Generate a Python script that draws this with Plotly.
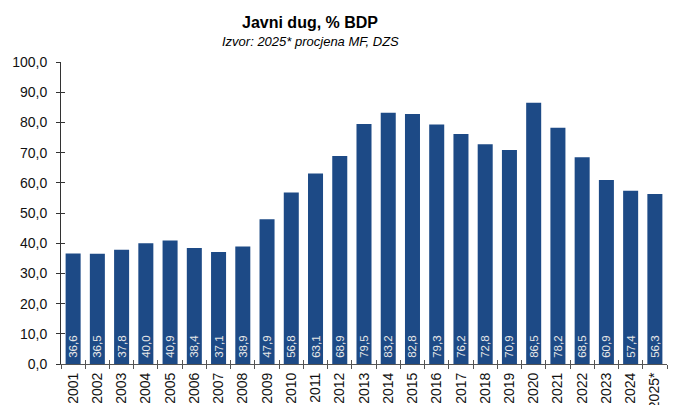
import plotly.graph_objects as go

years = ["2001","2002","2003","2004","2005","2006","2007","2008","2009","2010",
         "2011","2012","2013","2014","2015","2016","2017","2018","2019","2020",
         "2021","2022","2023","2024","2025*"]
debt = [36.6,36.5,37.8,40.0,40.9,38.4,37.1,38.9,47.9,56.8,
        63.1,68.9,79.5,83.2,82.8,79.3,76.2,72.8,70.9,86.5,
        78.2,68.5,60.9,57.4,56.3]
labels = ["\u00a0" + f"{v:.1f}".replace(".", ",") for v in debt]
yticks = list(range(0, 101, 10))
yticktext = [f"{v:.1f}".replace(".", ",") for v in yticks]
xrange_ = [-0.5, len(years) - 0.5]

fig = go.Figure()
fig.add_trace(go.Bar(
    x=years, y=debt, text=labels,
    marker=dict(color="#1d4a86", line=dict(width=0)),
    textposition="inside", insidetextanchor="start", textangle=-90,
    textfont=dict(family="Liberation Sans, Arial", size=11.5, color="#e8e8e8"),
    constraintext="none", cliponaxis=False,
))
# invisible helper trace so the overlay axes draw the inner half of the crossing ticks
fig.add_trace(go.Scatter(x=years, y=debt, xaxis="x2", yaxis="y2",
                         mode="markers", marker=dict(opacity=0), hoverinfo="skip"))

fig.update_layout(
    width=676, height=405,
    margin=dict(l=53, r=17, t=54, b=49),
    paper_bgcolor="white", plot_bgcolor="white",
    bargap=0.38, showlegend=False,
    font=dict(family="Liberation Sans, Arial", size=14, color="#111"),
    annotations=[
        dict(text="<b>Javni dug, % BDP</b>", xref="paper", yref="paper",
             x=(310-61)/606, y=1, yshift=40, showarrow=False,
             font=dict(size=16, color="#000"), xanchor="center", yanchor="middle"),
        dict(text="<i>Izvor: 2025* procjena MF, DZS</i>", xref="paper", yref="paper",
             x=(310-61)/606, y=1, yshift=21, showarrow=False,
             font=dict(size=13, color="#000"), xanchor="center", yanchor="middle"),
    ],
    xaxis=dict(range=xrange_, showgrid=False, showline=True, linecolor="#555", linewidth=1,
               ticks="outside", ticklen=4, tickcolor="#555", tickson="boundaries",
               tickangle=-90, tickfont=dict(size=14), automargin=False,
               ticklabelstandoff=2,
               categoryorder="array", categoryarray=years),
    yaxis=dict(range=[0, 100], tickvals=yticks, ticktext=yticktext,
               showgrid=False, showline=True, linecolor="#333", linewidth=1,
               ticks="outside", ticklen=4, tickcolor="#333", zeroline=False,
               tickfont=dict(size=14), automargin=False, ticklabelstandoff=6),
    xaxis2=dict(overlaying="x", range=xrange_, showticklabels=False, showgrid=False,
                ticks="inside", ticklen=4, tickcolor="#555", tickson="boundaries",
                showline=False, zeroline=False, side="bottom", anchor="y2", automargin=False,
                categoryorder="array", categoryarray=years),
    yaxis2=dict(overlaying="y", range=[0, 100], showticklabels=False, showgrid=False,
                ticks="inside", ticklen=4, tickcolor="#333", tickvals=yticks,
                showline=False, zeroline=False, side="left", anchor="x2", automargin=False),
)

fig.write_html("out.html")
